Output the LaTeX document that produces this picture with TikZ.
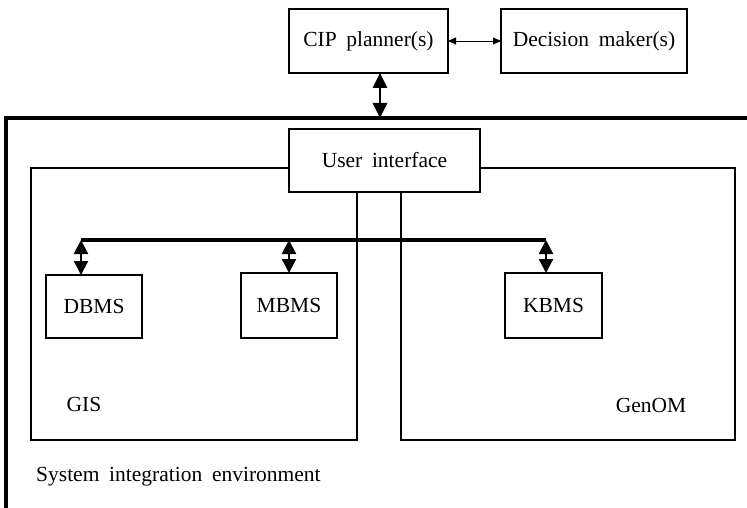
\documentclass[tikz,border=0pt]{standalone}
\usepackage{fontspec}
\setmainfont{Liberation Serif}
\usetikzlibrary{arrows.meta}
\newcommand\diagfont{\fontsize{21.5}{25}\selectfont\spaceskip=0.45em plus 0.1em\relax}
\begin{document}
\begin{tikzpicture}[x=1pt,y=-1pt,
  box/.style={draw,line width=1.3pt,inner sep=0pt,outer sep=0pt,font=\diagfont},
  region/.style={draw,line width=1.3pt,inner sep=0pt,outer sep=0pt},
  lbl/.style={inner sep=0pt,font=\diagfont},
  thickline/.style={line width=3.5pt},
  bigarrow/.style={line width=2.8pt,{Triangle[length=15pt,width=14pt]}-{Triangle[length=15pt,width=14pt]}},
  smallarrow/.style={line width=2.2pt,{Triangle[length=14pt,width=14pt]}-{Triangle[length=14pt,width=14pt]}},
  thinarrow/.style={line width=0.9pt,{Triangle[length=8pt,width=7pt]}-{Triangle[length=8pt,width=7pt]}}]
\useasboundingbox (0,0) rectangle (747,508);
% regions
\node[region,minimum width=326pt,minimum height=272pt] (gis) at (194,304) {};
\node[region,minimum width=334pt,minimum height=272pt] (genom) at (568,304) {};
% top boxes
\node[box,minimum width=159pt,minimum height=64pt] (cip) at (368.5,41) {CIP planner(s)};
\node[box,minimum width=186pt,minimum height=64pt] (dec) at (594,41) {Decision maker(s)};
\node[box,fill=white,minimum width=191pt,minimum height=63pt] (ui) at (384.5,160.5) {User interface};
% inner boxes
\node[box,minimum width=96pt,minimum height=63pt] (dbms) at (94,306.5) {DBMS};
\node[box,minimum width=96pt,minimum height=65pt] (mbms) at (289,305.5) {MBMS};
\node[box,minimum width=97pt,minimum height=65pt] (kbms) at (553.5,305.5) {KBMS};
% environment frame
\coordinate (envL) at (6,508);
\coordinate (envTL) at (6,118);
\coordinate (envTR) at (747,118);
\draw[thickline] (envL) -- (envTL) -- (envTR);
% bus
\coordinate (busL) at (81,240);
\coordinate (busM) at (289,240);
\coordinate (busR) at (546,240);
\draw[thickline] (busL) -- (busR);
\draw[smallarrow] (busL) -- (busL |- dbms.north);
\draw[smallarrow] (busM) -- (busM |- mbms.north);
\draw[smallarrow] (busR) -- (busR |- kbms.north);
% top arrows
\coordinate (cipx) at (380,118);
\draw[bigarrow] (cipx |- cip.south) -- (cipx);
\draw[thinarrow] (cip.east) -- (dec.west);
% labels
\node[lbl] (gislbl) at (84,404) {GIS};
\node[lbl] (genomlbl) at (651,405) {GenOM};
\node[lbl,anchor=west] (envlbl) at (36,477) {System integration environment};
\end{tikzpicture}
\end{document}
